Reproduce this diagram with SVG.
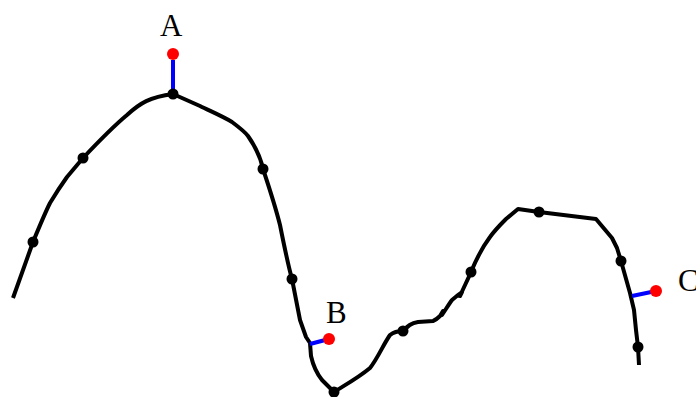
<svg xmlns="http://www.w3.org/2000/svg" width="696" height="397" viewBox="0 0 696 397">
<style>
.curve{fill:none;stroke:#000;stroke-width:4;stroke-linejoin:round;stroke-linecap:butt}
.link{stroke:#0000ff;stroke-width:4}
.pt{fill:#000}
.tgt{fill:#ff0000}
.lbl{font-family:"Liberation Serif","DejaVu Serif",serif;font-size:31px;fill:#000}
</style>
<rect width="696" height="397" fill="#fff"/>
<g id="connectors">
<path class="curve" d="M13,298 L33,242 C40,225 45,213 50,203 C56,193 62,184 67,177 L83,158 C100,140 115,125 127,115 C140,103 150,97 173,94 L200,106 C210,111 222,116 232,122 C240,128 245,132 248,136 C255,146 260,155 263,169 C270,190 277,213 280,225 C284,245 288,265 292,279 L300,320 L306,337 L310,343 L311,356 C313,365 318,375 322,380 L334,392 C345,385 358,378 370,368 C378,358 383,345 390,335 C395,331 400,331 403,331 C408,326 411,323 418,322 L433,321 C436,320 438,318 440,316 L443,311 L442,315 C446,309 449,304 452,300 L458,295 L462,292 L460,296 C464,287 468,279 471,272 C478,255 484,245 490,237 C495,230 500,225 506,219 L518,209 L539,212 L596,219 L612,238 L617,248 L621,261 L630,293 L634,310 L636,330 L638,347 L639,365"/>
<line class="link" x1="173" y1="60" x2="173" y2="94"/>
<line class="link" x1="310" y1="344" x2="329" y2="339"/>
<line class="link" x1="632" y1="296" x2="656" y2="291"/>
</g>
<g id="p1"><circle class="pt" cx="33" cy="242" r="5.5"/></g>
<g id="p2"><circle class="pt" cx="83" cy="158" r="5.5"/></g>
<g id="p3"><circle class="pt" cx="173" cy="94" r="5.5"/></g>
<g id="p4"><circle class="pt" cx="263" cy="169" r="5.5"/></g>
<g id="p5"><circle class="pt" cx="292" cy="279" r="5.5"/></g>
<g id="p6"><circle class="pt" cx="334" cy="392" r="5.5"/></g>
<g id="p7"><circle class="pt" cx="403" cy="331" r="5.5"/></g>
<g id="p8"><circle class="pt" cx="471" cy="272" r="5.5"/></g>
<g id="p9"><circle class="pt" cx="539" cy="212" r="5.5"/></g>
<g id="p10"><circle class="pt" cx="621" cy="261" r="5.5"/></g>
<g id="p11"><circle class="pt" cx="638" cy="347" r="5.5"/></g>
<g id="A"><circle class="tgt" cx="173" cy="54" r="6"/><text class="lbl" x="160" y="36">A</text></g>
<g id="B"><circle class="tgt" cx="329" cy="339" r="6"/><text class="lbl" x="326" y="323">B</text></g>
<g id="C"><circle class="tgt" cx="656" cy="291" r="6"/><text class="lbl" x="678" y="291">C</text></g>
</svg>
